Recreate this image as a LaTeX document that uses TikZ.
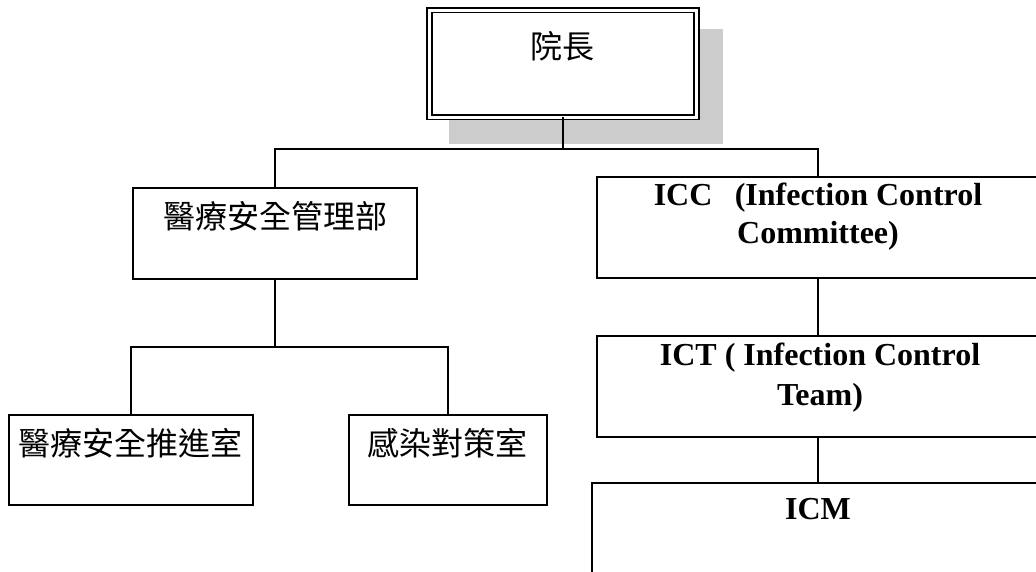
\documentclass[tikz,border=0pt]{standalone}
\usepackage{fontspec}
\setmainfont{Liberation Serif}
\newfontfamily\cjk{Noto Sans CJK TC}
\begin{document}
\begin{tikzpicture}[x=1pt,y=-1pt,
  box/.style={draw, line width=1.7pt, fill=white, inner sep=0pt, outer sep=0pt, anchor=north west},
  cjktext/.style={font=\cjk\fontsize{32pt}{38pt}\selectfont, inner sep=0pt, anchor=base},
  entext/.style={font=\bfseries\fontsize{32pt}{37.5pt}\selectfont, inner sep=0pt, anchor=base, align=center},
  conn/.style={line width=1.7pt}]
\useasboundingbox (0,0) rectangle (1036,571);
% shadow of top box
\fill[gray!40] (449,29) rectangle (723,144);
% boxes
\node[box, double, line width=1.6pt, double distance=3pt, minimum width=267pt, minimum height=107pt] (chief) at (429.5,10) {};
\node[box, minimum width=284pt, minimum height=91pt] (mgmt) at (133,188) {};
\node[box, minimum width=244pt, minimum height=90pt] (safety) at (9,415) {};
\node[box, minimum width=198pt, minimum height=90pt] (infect) at (349,415) {};
\node[box, minimum width=442pt, minimum height=101pt] (icc) at (597,177) {};
\node[box, minimum width=442pt, minimum height=101pt] (ict) at (597,336) {};
\node[box, minimum width=452pt, minimum height=120pt] (icm) at (592,483) {};
% junctions
\coordinate (j1) at (chief.south |- 0,149);
\coordinate (j2) at (mgmt.south |- 0,347);
% connectors
\draw[conn] (chief.south) -- (j1);
\draw[conn] (mgmt.north) |- (j1) -| (icc.north);
\draw[conn] (mgmt.south) -- (j2);
\draw[conn] (safety.north) |- (j2) -| (infect.north);
\draw[conn] (icc.south) -- (ict.north);
\draw[conn] (ict.south) -- (icm.north);
% texts
\node[cjktext] (tchief) at (562,58) {院長};
\node[cjktext] (tmgmt) at (275,228) {醫療安全管理部};
\node[cjktext] (tsafety) at (131,455) {醫療安全推進室};
\node[cjktext] (tinfect) at (447.5,455) {感染對策室};
\node[entext] (ticc) at (818,243) {ICC\hspace{0.7em}(Infection Control\\Committee)};
\node[entext, font=\bfseries\fontsize{32pt}{40pt}\selectfont] (tict) at (820,405) {ICT ( Infection Control\\Team)};
\node[entext] (ticm) at (818,519) {ICM};
\end{tikzpicture}
\end{document}
